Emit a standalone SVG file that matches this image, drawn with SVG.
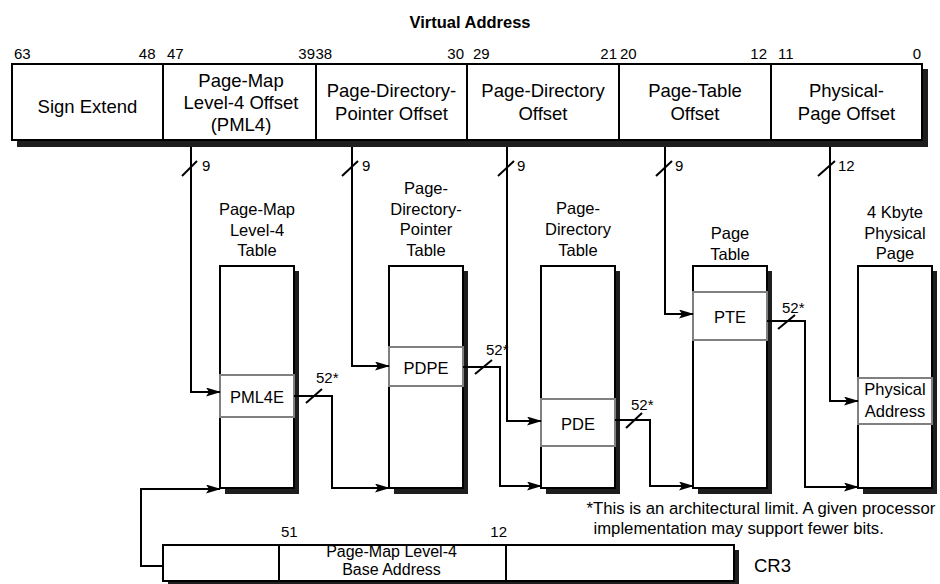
<svg xmlns="http://www.w3.org/2000/svg" width="940" height="584" viewBox="0 0 940 584">
<defs>
<marker id="arr" markerUnits="userSpaceOnUse" markerWidth="15" markerHeight="10" refX="14" refY="4.5" orient="auto">
<path d="M0,0 L15,4.5 L0,9 L3,4.5 z" fill="#000"/>
</marker>
<style>
text{font-family:"Liberation Sans",Arial,Helvetica,sans-serif;fill:#000}
.title{font-size:16.5px;font-weight:bold;text-anchor:middle}
.bit{font-size:15px}
.fld{font-size:18.5px;text-anchor:middle}
.lbl{font-size:16.5px;text-anchor:middle}
.ent{font-size:16.5px;text-anchor:middle}
.num{font-size:15px}
.note{font-size:16.7px}
.box{fill:#fff;stroke:#000;stroke-width:2}
.shadow{fill:#1e1e1e}
.entry{fill:#fff;stroke:#808080;stroke-width:2}
.div{stroke:#000;stroke-width:2}
.wire{fill:none;stroke:#000;stroke-width:2}
.arrow{fill:none;stroke:#000;stroke-width:2;marker-end:url(#arr)}
.slash{stroke:#000;stroke-width:2}
</style>
</defs>

<text class="title" x="470" y="27.5">Virtual Address</text>

<g id="virtual-address">
<rect class="shadow" x="17" y="69" width="911" height="78"/>
<rect class="box" x="12" y="64" width="910" height="76"/>
<line class="div" x1="163" y1="64" x2="163" y2="140"/>
<line class="div" x1="316" y1="64" x2="316" y2="140"/>
<line class="div" x1="467" y1="64" x2="467" y2="140"/>
<line class="div" x1="619" y1="64" x2="619" y2="140"/>
<line class="div" x1="771" y1="64" x2="771" y2="140"/>
<text class="bit" x="14" y="59">63</text>
<text class="bit" x="155.5" y="59" text-anchor="end">48</text>
<text class="bit" x="167" y="59">47</text>
<text class="bit" x="315" y="59" text-anchor="end">39</text>
<text class="bit" x="315.5" y="59">38</text>
<text class="bit" x="464" y="59" text-anchor="end">30</text>
<text class="bit" x="473" y="59">29</text>
<text class="bit" x="617" y="59" text-anchor="end">21</text>
<text class="bit" x="620" y="59">20</text>
<text class="bit" x="767" y="59" text-anchor="end">12</text>
<text class="bit" x="778" y="59">11</text>
<text class="bit" x="921" y="59" text-anchor="end">0</text>
<text class="fld" x="87.5" y="113">Sign Extend</text>
<text class="fld" x="241" y="86.5">Page-Map</text>
<text class="fld" x="241" y="108.5">Level-4 Offset</text>
<text class="fld" x="241" y="130.5">(PML4)</text>
<text class="fld" x="391.5" y="97">Page-Directory-</text>
<text class="fld" x="391.5" y="120">Pointer Offset</text>
<text class="fld" x="543" y="97">Page-Directory</text>
<text class="fld" x="543" y="120">Offset</text>
<text class="fld" x="695" y="97">Page-Table</text>
<text class="fld" x="695" y="120">Offset</text>
<text class="fld" x="846.5" y="97">Physical-</text>
<text class="fld" x="846.5" y="120">Page Offset</text>
</g>

<g id="pml4-table">
<text class="lbl" x="257" y="215">Page-Map</text>
<text class="lbl" x="257" y="235.5">Level-4</text>
<text class="lbl" x="257" y="256">Table</text>
<rect class="shadow" x="225" y="271" width="74" height="223"/>
<rect class="box" x="220" y="266" width="74" height="222"/>
</g>
<g id="pml4e">
<rect class="entry" x="220" y="375" width="74" height="42"/>
<text class="ent" x="257" y="403">PML4E</text>
</g>

<g id="pdp-table">
<text class="lbl" x="426" y="194">Page-</text>
<text class="lbl" x="426" y="214.5">Directory-</text>
<text class="lbl" x="426" y="235">Pointer</text>
<text class="lbl" x="426" y="256">Table</text>
<rect class="shadow" x="394" y="271" width="74" height="223"/>
<rect class="box" x="389" y="266" width="74" height="222"/>
</g>
<g id="pdpe">
<rect class="entry" x="389" y="347" width="74" height="39"/>
<text class="ent" x="426" y="374">PDPE</text>
</g>

<g id="pd-table">
<text class="lbl" x="578" y="214">Page-</text>
<text class="lbl" x="578" y="235">Directory</text>
<text class="lbl" x="578" y="256">Table</text>
<rect class="shadow" x="546" y="271" width="74" height="223"/>
<rect class="box" x="541" y="266" width="74" height="222"/>
</g>
<g id="pde">
<rect class="entry" x="541" y="399" width="74" height="47"/>
<text class="ent" x="578" y="430">PDE</text>
</g>

<g id="page-table">
<text class="lbl" x="730" y="239">Page</text>
<text class="lbl" x="730" y="259.5">Table</text>
<rect class="shadow" x="698" y="271" width="74" height="223"/>
<rect class="box" x="693" y="266" width="74" height="222"/>
</g>
<g id="pte">
<rect class="entry" x="693" y="292" width="74" height="48"/>
<text class="ent" x="730" y="323">PTE</text>
</g>

<g id="physical-page">
<text class="lbl" x="895" y="218">4 Kbyte</text>
<text class="lbl" x="895" y="238.5">Physical</text>
<text class="lbl" x="895" y="259">Page</text>
<rect class="shadow" x="863" y="271" width="74" height="223"/>
<rect class="box" x="858" y="266" width="74" height="222"/>
</g>
<g id="physical-address">
<rect class="entry" x="858" y="378" width="74" height="46"/>
<text class="ent" x="895" y="394.5">Physical</text>
<text class="ent" x="895" y="416.5">Address</text>
</g>

<g id="cr3">
<rect class="shadow" x="168" y="550" width="571" height="36"/>
<rect class="box" x="163" y="545" width="571" height="36"/>
<line class="div" x1="279" y1="545" x2="279" y2="581"/>
<line class="div" x1="506" y1="545" x2="506" y2="581"/>
<text class="num" x="281" y="537">51</text>
<text class="num" x="507" y="537" text-anchor="end">12</text>
<text x="391.5" y="557" font-size="16" text-anchor="middle">Page-Map Level-4</text>
<text x="391.5" y="575" font-size="16" text-anchor="middle">Base Address</text>
<text x="754" y="571.5" font-size="18.5">CR3</text>
</g>

<g id="footnote">
<text class="note" x="586.5" y="513.5">*This is an architectural limit. A given processor</text>
<text class="note" x="593.5" y="533.5">implementation may support fewer bits.</text>
</g>

<g id="connectors">
<polyline class="arrow" points="191,147 191,392 220,392"/>
<polyline class="arrow" points="352,147 352,366 389,366"/>
<polyline class="arrow" points="507,147 507,421 541,421"/>
<polyline class="arrow" points="665,147 665,314 693,314"/>
<polyline class="arrow" points="830,147 830,401 858,401"/>
<polyline class="arrow" points="294,396 332,396 332,488 389,488"/>
<polyline class="arrow" points="463,367 500,367 500,486 541,486"/>
<polyline class="arrow" points="615,420 650,420 650,486 693,486"/>
<polyline class="arrow" points="767,321 805,321 805,487 858,487"/>
<polyline class="arrow" points="163,566 141,566 141,489 220,489"/>
<line class="slash" x1="182" y1="176" x2="197" y2="161"/>
<line class="slash" x1="342" y1="176" x2="358" y2="161"/>
<line class="slash" x1="498" y1="176" x2="514" y2="161"/>
<line class="slash" x1="656" y1="176" x2="672" y2="161"/>
<line class="slash" x1="818" y1="176" x2="835" y2="161"/>
<text class="num" x="202" y="171">9</text>
<text class="num" x="362" y="171">9</text>
<text class="num" x="517" y="171">9</text>
<text class="num" x="675" y="171">9</text>
<text class="num" x="838" y="171">12</text>
<line class="slash" x1="306" y1="403" x2="322" y2="389"/>
<line class="slash" x1="475" y1="374" x2="492" y2="360"/>
<line class="slash" x1="626" y1="428" x2="642" y2="413"/>
<line class="slash" x1="778" y1="329" x2="795" y2="315"/>
<text class="num" x="316" y="383" font-size="16">52*</text>
<text class="num" x="486" y="355" font-size="16">52*</text>
<text class="num" x="631" y="410" font-size="16">52*</text>
<text class="num" x="782" y="313" font-size="16">52*</text>
</g>
</svg>
